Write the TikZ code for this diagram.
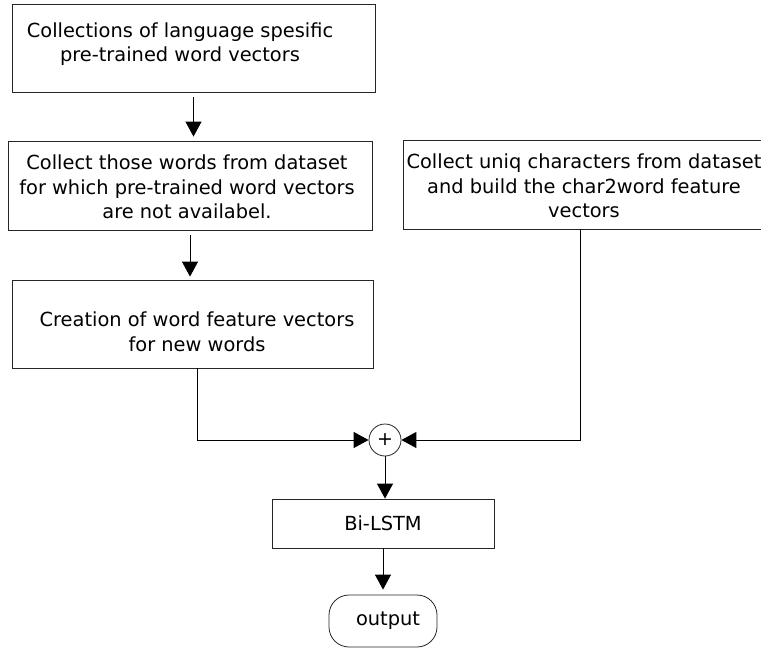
\documentclass[tikz,border=0pt]{standalone}
\usepackage{fontspec}
\setmainfont{DejaVu Sans}
\usetikzlibrary{arrows.meta}
\tikzset{
  box/.style={draw=black!85,line width=0.8pt,inner sep=0pt},
  txt/.style={align=center,font=\fontsize{19.4}{24.5}\selectfont},
  arr/.style={line width=1pt,-{Triangle[length=15pt,width=16pt]}}
}
\begin{document}
\begin{tikzpicture}[x=1pt,y=-1pt]
      \useasboundingbox (0,0) rectangle (761,650);

      % boxes
      \node (b1) at (193.5,48) [box,minimum width=363pt,minimum height=88pt]{};
      \node (b2) at (190,185.5) [box,minimum width=364pt,minimum height=89pt]{};
      \node (b3) at (192.5,324) [box,minimum width=361pt,minimum height=88pt]{};
      \node (b4) at (584,184.5) [box,minimum width=362pt,minimum height=89pt]{};
      \node (sum) at (385,440) [box,circle,minimum size=32pt,font=\fontsize{19}{19}\selectfont]{+};
      \node (lstm) at (383,523.5) [box,minimum width=222pt,minimum height=49pt,txt]{Bi-LSTM};
      \node (out) at (383,621) [box,rounded corners=20pt,minimum width=108pt,minimum height=52pt]{};

      % texts
      \node (t1) at (180,44) [txt]{Collections of language spesific\\pre-trained word vectors};
      \node (t2) at (187,187) [txt]{Collect those words from dataset\\for which pre-trained word vectors\\are not availabel.};
      \node (t3) at (197,332) [txt]{Creation of word feature vectors\\for new words};
      \node (t4) at (584,186) [txt]{Collect uniq characters from dataset\\and build the char2word feature\\vectors};
      \node (t5) at (388,621) [txt]{output};

      % arrows
      \draw[arr,shorten <=5pt,shorten >=4pt] (b1.south) -- (b1.south |- b2.north);
      \draw[arr,shorten <=5pt,shorten >=3pt] (b2.south) -- (b2.south |- b3.north);
      \draw[arr] ([xshift=4.5pt]b3.south) |- (sum.west);
      \draw[arr] ([xshift=-4pt]b4.south) |- (sum.east);
      \draw[arr] (sum.south) -- (sum.south |- lstm.north);
      \draw[arr,shorten >=5pt] (lstm.south) -- (out.north);

\end{tikzpicture}
\end{document}
